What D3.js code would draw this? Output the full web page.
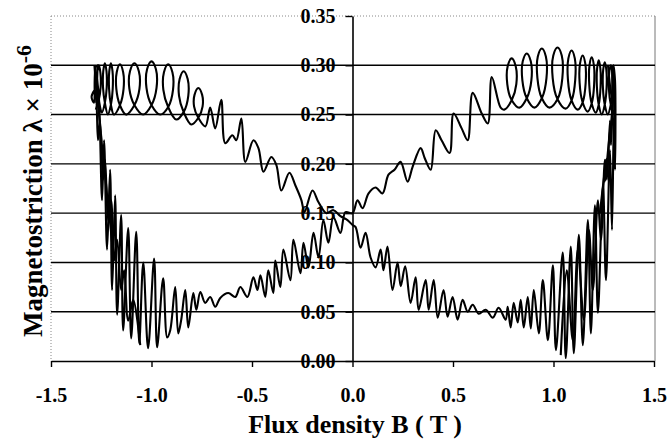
<!DOCTYPE html>
<meta charset="utf-8">
<style>
body { margin: 0; background: #fff; }
#chart text { font-family: "Liberation Serif", "Times New Roman", serif; font-weight: bold; fill: #000; }
</style>
<div id="chart"></div>
<script src="https://d3js.org/d3.v7.min.js"></script>
<script>
// tick values
var xTicks = [-1.5, -1.0, -0.5, 0.0, 0.5, 1.0, 1.5];
var yTicks = [0.00, 0.05, 0.10, 0.15, 0.20, 0.25, 0.30, 0.35];

// traced curve, [B (T), lambda x 1e-6]
var topLeftLoops = [
  [-1.277,.255],[-1.262,.265],[-1.253,.278],[-1.254,.292],[-1.262,.300],[-1.270,.292],[-1.271,.278],[-1.262,.265],
  [-1.247,.252],[-1.232,.262],[-1.223,.277],[-1.224,.294],[-1.232,.302],[-1.240,.294],[-1.241,.277],[-1.232,.262],
  [-1.217,.250],[-1.202,.260],[-1.193,.276],[-1.194,.294],[-1.202,.302],[-1.210,.294],[-1.211,.276],[-1.202,.260],
  [-1.187,.250],[-1.156,.260],[-1.139,.276],[-1.141,.293],[-1.157,.301],[-1.173,.293],[-1.175,.276],[-1.158,.260],
  [-1.127,.250],[-1.084,.260],[-1.060,.276],[-1.063,.294],[-1.085,.302],[-1.107,.294],[-1.110,.276],[-1.086,.260],
  [-1.042,.250],[-0.999,.260],[-0.975,.277],[-0.978,.296],[-1.000,.304],[-1.022,.296],[-1.025,.277],[-1.001,.260],
  [-0.957,.250],[-0.916,.258],[-0.893,.275],[-0.896,.293],[-0.917,.301],[-0.938,.293],[-0.941,.275],[-0.918,.258],
  [-0.877,.245],[-0.839,.253],[-0.817,.269],[-0.820,.286],[-0.840,.294],[-0.860,.286],[-0.863,.269],[-0.841,.253],
  [-0.802,.240],[-0.766,.247],[-0.746,.258],[-0.748,.270],[-0.767,.277],[-0.786,.270],[-0.788,.258],[-0.768,.247],
  [-0.732,.238]
];
var upperLeftSlope = [
  [-0.708,.257],[-0.683,.236],[-0.653,.265],[-0.633,.221],[-0.598,.229],[-0.578,.224],
  [-0.553,.246],[-0.533,.202],[-0.493,.224],[-0.468,.216],[-0.443,.192],[-0.404,.207],
  [-0.379,.199],[-0.354,.173],[-0.314,.191],[-0.284,.178],[-0.254,.163],[-0.239,.151],
  [-0.199,.173],[-0.169,.161],[-0.130,.150],[-0.095,.153],[-0.060,.147],[-0.025,.143],
  [0.000,.138]
];
var lowerRightSlope = [
  [0.015,.136],[0.040,.115],[0.065,.130],[0.090,.105],[0.115,.095],[0.140,.113],
  [0.154,.092],[0.174,.116],[0.199,.072],[0.224,.100],[0.240,.076],[0.262,.096],
  [0.289,.059],[0.314,.085],[0.329,.052],[0.364,.082],[0.379,.052],[0.404,.082],
  [0.424,.044],[0.453,.072],[0.473,.045],[0.498,.065],[0.523,.042],[0.548,.062],
  [0.573,.050],[0.598,.057],[0.628,.048],[0.663,.052],[0.698,.044],[0.727,.054],
  [0.762,.042],[0.772,.055],[0.787,.034],[0.802,.059],[0.822,.039],[0.837,.062],
  [0.852,.034],[0.872,.065],[0.887,.033],[0.902,.072],[0.927,.028],[0.947,.082],
  [0.972,.021],[0.997,.097],[1.012,.011],[1.046,.110],[1.061,.003],[1.086,.116],
  [1.101,.008],[1.126,.128],[1.146,.016],[1.171,.143],[1.186,.028],[1.206,.158],
  [1.221,.049],[1.246,.178],[1.261,.082],[1.281,.214],[1.291,.133],[1.301,.255],
  [1.306,.194],[1.306,.285],[1.298,.300]
];
var topRightLoops = [
  [1.300,.250],[1.285,.260],[1.276,.275],[1.277,.292],[1.285,.300],[1.293,.292],[1.294,.275],[1.285,.260],
  [1.270,.250],[1.255,.260],[1.246,.277],[1.247,.295],[1.255,.303],[1.263,.295],[1.264,.277],[1.255,.260],
  [1.240,.250],[1.225,.260],[1.216,.278],[1.217,.297],[1.225,.305],[1.233,.297],[1.234,.278],[1.225,.260],
  [1.210,.252],[1.189,.262],[1.178,.280],[1.179,.300],[1.190,.308],[1.201,.300],[1.202,.280],[1.191,.262],
  [1.170,.253],[1.144,.263],[1.130,.282],[1.132,.302],[1.145,.310],[1.158,.302],[1.160,.282],[1.146,.263],
  [1.120,.255],[1.089,.265],[1.072,.285],[1.074,.307],[1.090,.315],[1.106,.307],[1.108,.285],[1.091,.265],
  [1.060,.256],[1.019,.266],[0.996,.287],[0.999,.310],[1.020,.318],[1.041,.310],[1.044,.287],[1.021,.266],
  [0.980,.257],[0.941,.267],[0.920,.287],[0.922,.309],[0.942,.317],[0.962,.309],[0.965,.287],[0.943,.267],
  [0.905,.257],[0.866,.267],[0.845,.285],[0.847,.304],[0.867,.312],[0.887,.304],[0.890,.285],[0.868,.267],
  [0.830,.257],[0.791,.265],[0.770,.281],[0.772,.299],[0.792,.307],[0.812,.299],[0.815,.281],[0.793,.265],
  [0.755,.255],[0.737,.257]
];
var upperRightSlope = [
  [0.693,.288],[0.673,.241],[0.643,.251],[0.598,.272],[0.573,.224],[0.543,.236],
  [0.503,.251],[0.483,.211],[0.443,.224],[0.414,.234],[0.389,.194],[0.359,.206],
  [0.339,.216],[0.299,.197],[0.274,.182],[0.239,.202],[0.209,.194],[0.179,.189],
  [0.149,.170],[0.115,.176],[0.080,.170],[0.050,.155],[0.025,.163],[0.000,.150],
  [-0.035,.151]
];
var lowerLeftSlope = [
  [-0.060,.130],[-0.095,.146],[-0.120,.120],[-0.145,.143],[-0.169,.105],[-0.194,.130],
  [-0.219,.095],[-0.244,.120],[-0.259,.089],[-0.294,.123],[-0.309,.082],[-0.344,.113],
  [-0.359,.075],[-0.384,.102],[-0.394,.069],[-0.419,.092],[-0.434,.065],[-0.458,.087],
  [-0.473,.072],[-0.493,.085],[-0.523,.065],[-0.558,.075],[-0.583,.065],[-0.618,.069],
  [-0.658,.064],[-0.683,.055],[-0.708,.065],[-0.733,.059],[-0.757,.070],[-0.777,.052],
  [-0.792,.069],[-0.817,.034],[-0.832,.072],[-0.852,.042],[-0.867,.028],[-0.882,.075],
  [-0.907,.031],[-0.922,.024],[-0.942,.084],[-0.972,.014],[-0.987,.104],[-1.017,.013],
  [-1.041,.100],[-1.061,.018],[-1.076,.131],[-1.101,.023],[-1.116,.135],[-1.141,.031],
  [-1.151,.148],[-1.171,.047],[-1.181,.168],[-1.196,.072],[-1.206,.194],[-1.221,.113],
  [-1.236,.224],[-1.246,.163],[-1.261,.265],[-1.271,.290],[-1.268,.300],[-1.275,.262]
];
// extra passes that thicken the two steep ends
var rightBandExtra = [
  [1.036,.006],[1.066,.092],[1.096,.021],[1.121,.113],[1.151,.042],[1.176,.133],
  [1.196,.072],[1.221,.163],[1.236,.123],[1.256,.204],[1.266,.184],[1.281,.244],
  [1.286,.219],[1.296,.280],[1.291,.265],[1.271,.300]
];
var rightBandTop = [
  [1.231,.150],[1.262,.205],[1.256,.182],[1.284,.240],[1.279,.222],[1.300,.276],
  [1.294,.262],[1.292,.300]
];
var leftBandExtra = [
  [-1.056,.016],[-1.091,.062],[-1.116,.041],[-1.136,.092],[-1.151,.072],[-1.171,.123],
  [-1.186,.102],[-1.201,.163],[-1.216,.143],[-1.231,.204],[-1.241,.184],[-1.256,.244],
  [-1.266,.224],[-1.281,.275],[-1.298,.268],[-1.286,.262],[-1.276,.299],[-1.256,.295]
];
var leftBandTop = [
  [-1.196,.120],[-1.226,.180],[-1.220,.165],[-1.251,.230],[-1.245,.214],[-1.276,.282],
  [-1.272,.268],[-1.284,.300]
];

var W = 668, H = 441;
var svg = d3.select("#chart").append("svg")
  .attr("width", W).attr("height", H);

var x = d3.scaleLinear().domain([-1.5, 1.5]).range([51, 654]);
var y = d3.scaleLinear().domain([0, 0.35]).range([361, 16]);

// borders of the plot area
svg.append("line")
  .attr("x1", x(-1.5)).attr("x2", x(-1.5)).attr("y1", y(0.35)).attr("y2", y(0))
  .attr("stroke", "#888").attr("stroke-width", 1).attr("stroke-dasharray", "1,2");
svg.append("line")
  .attr("x1", x(1.5) + 1).attr("x2", x(1.5) + 1).attr("y1", y(0.35)).attr("y2", y(0))
  .attr("stroke", "#777").attr("stroke-width", 1);

// horizontal gridlines
svg.selectAll(".grid")
  .data(yTicks.filter(function(d) { return d > 0; }))
  .enter().append("line")
  .attr("class", "grid")
  .attr("x1", x(-1.5)).attr("x2", x(1.5) + 1)
  .attr("y1", function(d) { return y(d); })
  .attr("y2", function(d) { return y(d); })
  .attr("stroke", function(d) { return d > 0.32 ? "#888" : "#000"; })
  .attr("stroke-width", function(d) { return d > 0.32 ? 1 : 1.4; })
  .attr("stroke-dasharray", function(d) { return d > 0.32 ? "1,2" : null; });

// x axis
var xAxis = svg.append("g")
  .attr("transform", "translate(0," + y(0) + ")")
  .call(d3.axisBottom(x).tickValues(xTicks).tickSize(6).tickSizeOuter(0).tickPadding(21)
    .tickFormat(function(d) { return d.toFixed(1); }));
xAxis.select(".domain").attr("stroke", "#000").attr("stroke-width", 1.6);
xAxis.selectAll(".tick line").attr("stroke", "#000").attr("stroke-width", 1.4);
xAxis.selectAll("text").attr("font-size", "20px");

// y axis on B = 0
var yAxis = svg.append("g")
  .attr("transform", "translate(" + x(0) + ",0)")
  .call(d3.axisLeft(y).tickValues(yTicks).tickSize(7).tickSizeOuter(0).tickPadding(10)
    .tickFormat(function(d) { return d.toFixed(2); }));
yAxis.select(".domain").attr("stroke", "#000").attr("stroke-width", 1.6);
yAxis.selectAll(".tick line").attr("stroke", "#000").attr("stroke-width", 1.4);
yAxis.selectAll("text").attr("font-size", "20px");

// curve
var line = d3.line()
  .x(function(d) { return x(d[0]); })
  .y(function(d) { return y(d[1]); })
  .curve(d3.curveCatmullRom.alpha(0.5));

var mainLoop = topLeftLoops.concat(upperLeftSlope, lowerRightSlope, topRightLoops,
  upperRightSlope, lowerLeftSlope);

svg.selectAll(".trace")
  .data([mainLoop, rightBandExtra, rightBandTop, leftBandExtra, leftBandTop])
  .enter().append("path")
  .attr("class", "trace")
  .attr("d", line)
  .attr("fill", "none")
  .attr("stroke", "#000")
  .attr("stroke-width", 2.1)
  .attr("stroke-linejoin", "round");

// axis titles
svg.append("text")
  .attr("x", 355).attr("y", 433)
  .attr("text-anchor", "middle")
  .attr("font-size", "26px")
  .text("Flux density B ( T )");

var yt = svg.append("text")
  .attr("transform", "translate(42,191) rotate(-90)")
  .attr("text-anchor", "middle")
  .attr("font-size", "27px");
yt.append("tspan").text("Magnetostriction \u03bb \u00d7 10");
yt.append("tspan").attr("dy", "-0.5em").attr("font-size", "22px").text("-6");
</script>
